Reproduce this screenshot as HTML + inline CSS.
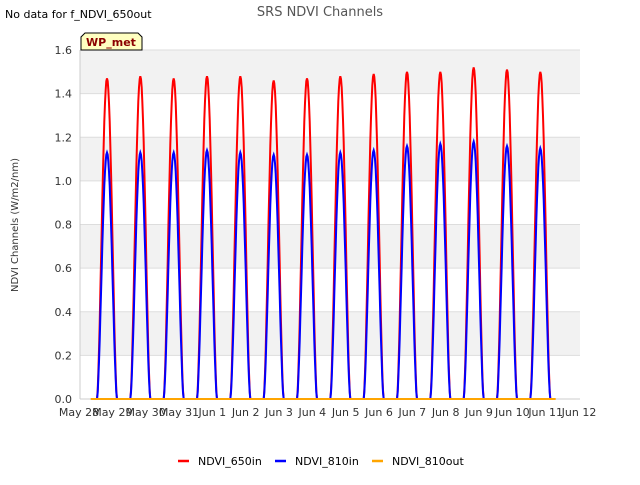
<!DOCTYPE html>
<html><head><meta charset="utf-8"><style>
body{margin:0;background:#fff;font-family:"Liberation Sans","DejaVu Sans",sans-serif;}
svg text{font-family:"DejaVu Sans","Liberation Sans",sans-serif;}
</style></head><body>
<svg id="chart" width="640" height="480" xmlns="http://www.w3.org/2000/svg">
<rect width="640" height="480" fill="#fff"/>
<text x="5" y="18" font-size="11" fill="#000">No data for f_NDVI_650out</text>
<text x="320" y="16" font-size="13" fill="#555" text-anchor="middle">SRS NDVI Channels</text>
<g id="bands"></g>
<g id="grid"></g>
<g id="axes"></g>
<g id="series"></g>
<g>
<path d="M81,50 L81,37 L85,33 L138,33 L142,37 L142,50 Z" fill="#ffffc0" stroke="#000" stroke-width="1"/>
<text x="111" y="46" font-size="11" font-weight="bold" fill="#8b0000" text-anchor="middle">WP_met</text>
</g>
<text transform="translate(18,225) rotate(-90)" font-size="10" fill="#333" text-anchor="middle">NDVI Channels (W/m2/nm)</text>
<g>
<g><line x1="178" y1="461" x2="189" y2="461" stroke="#f00" stroke-width="2.5"/><text x="198" y="465" font-size="11" fill="#000">NDVI_650in</text></g>
<g><line x1="275" y1="461" x2="286" y2="461" stroke="#00f" stroke-width="2.5"/><text x="295" y="465" font-size="11" fill="#000">NDVI_810in</text></g>
<g><line x1="372" y1="461" x2="383" y2="461" stroke="#ffa500" stroke-width="2.5"/><text x="392" y="465" font-size="11" fill="#000">NDVI_810out</text></g>
</g>
</svg>
<script>
const xTickLabels=["May 28","May 29","May 30","May 31","Jun 1","Jun 2","Jun 3","Jun 4","Jun 5","Jun 6","Jun 7","Jun 8","Jun 9","Jun 10","Jun 11","Jun 12"];
const yTicks=[0,0.2,0.4,0.6,0.8,1.0,1.2,1.4,1.6];
const dayIndex=[0,1,2,3,4,5,6,7,8,9,10,11,12,13];
const peak650=[1.47,1.48,1.47,1.48,1.48,1.46,1.47,1.48,1.49,1.50,1.50,1.52,1.51,1.50];
const peak810=[1.13,1.13,1.13,1.14,1.13,1.12,1.12,1.13,1.14,1.16,1.17,1.18,1.16,1.15];
const out810Start=0.35, out810End=14.3, out810Value=0;
const NS="http://www.w3.org/2000/svg";
const L=80,R=580,T=50,B=399;
const xS=d=>79+d*(500/15);
const yS=v=>B-(v/1.6)*(B-T);
function mk(tag,attrs,parent){const e=document.createElementNS(NS,tag);for(const k in attrs)e.setAttribute(k,attrs[k]);parent.appendChild(e);return e;}
const bands=document.getElementById('bands'),grid=document.getElementById('grid'),axes=document.getElementById('axes'),series=document.getElementById('series');
mk('rect',{x:L,y:T,width:R-L,height:B-T,fill:'#fff'},bands);
for(let i=0;i<yTicks.length-1;i++){if(i%2===1){const r=mk('rect',{x:L,y:yS(yTicks[i+1]),width:R-L,height:yS(yTicks[i])-yS(yTicks[i+1]),fill:'#f2f2f2'},bands);}}
yTicks.forEach(v=>{const g=mk('line',{x1:L,x2:R,y1:yS(v),y2:yS(v),stroke:'#ddd','stroke-width':1},grid);

const t=mk('text',{x:L-8,y:yS(v)+4,'font-size':11,fill:'#333','text-anchor':'end'},axes);t.textContent=v.toFixed(1);
});
mk('line',{x1:L,x2:L,y1:T,y2:B,stroke:'#ccc'},axes);
mk('line',{x1:L,x2:R,y1:B,y2:B,stroke:'#ccc'},axes);
xTickLabels.forEach((s,i)=>{const t=mk('text',{x:xS(i),y:B+17,'font-size':11,fill:'#333','text-anchor':'middle'},axes);t.textContent=s;
});
function curve(peaks,color,name){
 dayIndex.forEach((d,i)=>{let pts=[];const s=d+0.54,e=d+1.14,n=30;
  for(let k=0;k<=n;k++){const f=k/n;const v=peaks[i]*Math.pow(Math.sin(Math.PI*f),1.6);pts.push(xS(s+(e-s)*f).toFixed(1)+','+yS(v).toFixed(1));}
  const p=mk('polyline',{points:pts.join(' '),fill:'none',stroke:color,'stroke-width':2},series);
  });
}
curve(peak650,'#f00','ndvi-650in');
curve(peak810,'#00f','ndvi-810in');
const o=mk('line',{x1:xS(out810Start),x2:xS(out810End),y1:yS(out810Value),y2:yS(out810Value),stroke:'#ffa500','stroke-width':2},series);

</script>
</body></html>
